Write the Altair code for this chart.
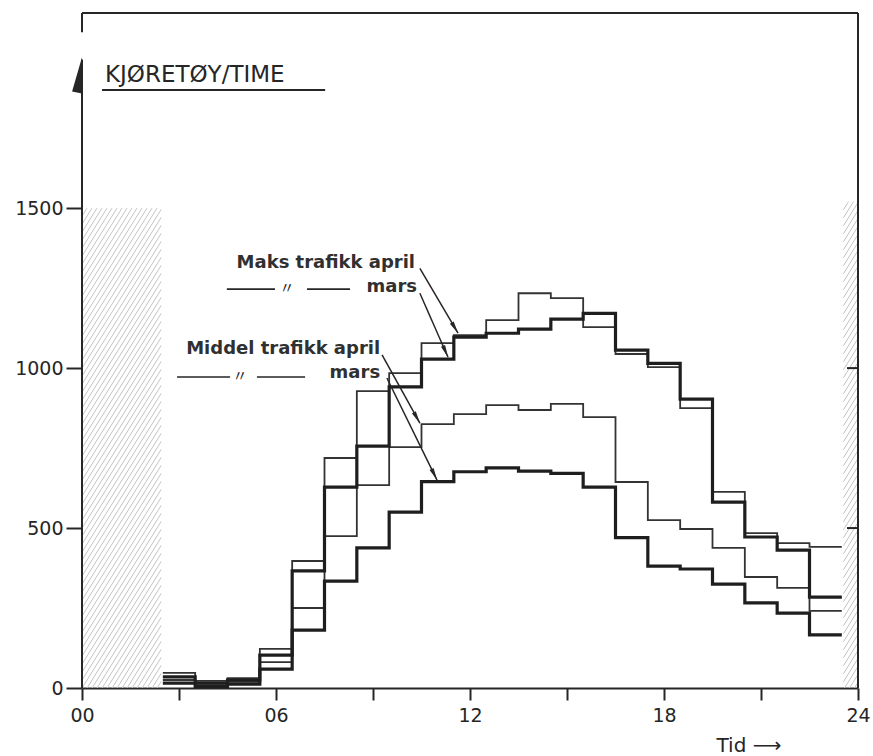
import math
import altair as alt
import pandas as pd

# Hourly traffic (vehicles per hour); each value covers hour-0.5 .. hour+0.5
hours = list(range(3, 24))
maks_april = [47, 22, 31, 122, 397, 719, 928, 984, 1078, 1103, 1150, 1234,
              1219, 1128, 1044, 1003, 875, 613, 484, 453, 441]
maks_mars = [35, 15, 25, 103, 366, 628, 756, 941, 1028, 1097, 1109, 1122,
             1153, 1171, 1056, 1015, 903, 581, 472, 431, 284]
middel_april = [25, 8, 19, 81, 250, 475, 634, 753, 825, 856, 884, 869,
                888, 847, 644, 525, 497, 438, 347, 313, 241]
middel_mars = [15, 5, 12, 59, 181, 334, 438, 550, 645, 676, 688, 678,
               671, 628, 470, 381, 372, 325, 266, 234, 166]

x_ticks = [0, 3, 6, 9, 12, 15, 18, 21, 24]
y_ticks = [0, 500, 1000, 1500]

# layout
W, H = 776, 675
XMAX, YMAX = 24, 2110
PXH = W / XMAX
PXV = H / YMAX
INK = "#262626"
FONT = "DejaVu Sans"

xs = alt.Scale(domain=[0, XMAX], nice=False, zero=False)
ys = alt.Scale(domain=[0, YMAX], nice=False)


def steps(name, vals):
    rows = [{"serie": name, "t": h - 0.5, "v": v} for h, v in zip(hours, vals)]
    rows.append({"serie": name, "t": hours[-1] + 0.5, "v": vals[-1]})
    return rows


thin_df = pd.DataFrame(steps("Maks april", maks_april) + steps("Middel april", middel_april))
thick_df = pd.DataFrame(steps("Maks mars", maks_mars) + steps("Middel mars", middel_mars))


def hatch(x0, x1, y0, y1, gap=5.0, slope=1.6):
    """Diagonal '/' hatch segments clipped to a rectangle (data units)."""
    X0, X1, Y0, Y1 = x0 * PXH, x1 * PXH, y0 * PXV, y1 * PXV
    span = (Y1 - Y0) / slope
    segs = []
    c = X0 - span
    while c < X1:
        a, b = max(X0, c), min(X1, c + span)
        if a < b:
            segs.append({"x": a / PXH, "y": (Y0 + slope * (a - c)) / PXV,
                         "x2": b / PXH, "y2": (Y0 + slope * (b - c)) / PXV})
        c += gap
    return segs


hatch_df = pd.DataFrame(hatch(0, 2.45, 0, 1500) + hatch(23.55, 24, 0, 1520))

frame_df = pd.DataFrame([
    {"x": 0, "y": YMAX, "x2": 24, "y2": YMAX},
    {"x": 24, "y": 0, "x2": 24, "y2": YMAX},
    {"x": 0, "y": 0, "x2": 0, "y2": 1965},
    {"x": 0, "y": 2050, "x2": 0, "y2": YMAX},
    {"x": 23.66, "y": 500, "x2": 24, "y2": 500},
    {"x": 23.66, "y": 1000, "x2": 24, "y2": 1000},
    {"x": 0.62, "y": 1869, "x2": 7.52, "y2": 1869},
])

# ditto dashes of the legend
dash_df = pd.DataFrame([
    {"x": 4.48, "y": 1247, "x2": 5.97, "y2": 1247},
    {"x": 6.96, "y": 1247, "x2": 8.29, "y2": 1247},
    {"x": 2.94, "y": 972, "x2": 4.58, "y2": 972},
    {"x": 5.41, "y": 972, "x2": 6.90, "y2": 972},
])

arrows = [
    (10.45, 1312, 11.63, 1109),
    (10.45, 1234, 11.32, 1034),
    (9.28, 1041, 10.45, 828),
    (9.43, 969, 10.98, 650),
]
arrow_df = pd.DataFrame([{"x": a, "y": b, "x2": c, "y2": d} for a, b, c, d in arrows])
heads = []
for a, b, c, d in arrows:
    dx, dy = (c - a) * PXH, -(d - b) * PXV
    n = math.hypot(dx, dy)
    ang = math.degrees(math.atan2(dx, -dy)) % 360
    heads.append({"x": c - dx / n * 6 / PXH, "y": d + dy / n * 6 / PXV, "ang": ang})
heads_df = pd.DataFrame(heads)

hatch_layer = alt.Chart(hatch_df).mark_rule(color="#c4c4c4", strokeWidth=1).encode(
    x=alt.X("x:Q", scale=xs), y=alt.Y("y:Q", scale=ys), x2="x2:Q", y2="y2:Q")

frame_layer = alt.Chart(frame_df).mark_rule(color=INK, strokeWidth=2).encode(
    x=alt.X("x:Q", scale=xs), y=alt.Y("y:Q", scale=ys), x2="x2:Q", y2="y2:Q")

dash_layer = alt.Chart(dash_df).mark_rule(color=INK, strokeWidth=1.6).encode(
    x=alt.X("x:Q", scale=xs), y=alt.Y("y:Q", scale=ys), x2="x2:Q", y2="y2:Q")

thin_layer = alt.Chart(thin_df).mark_line(
    interpolate="step-after", color="#333333", strokeWidth=1.8).encode(
    x=alt.X("t:Q", scale=xs,
            axis=alt.Axis(values=x_ticks, title="Tid  ⟶", grid=False,
                          labelExpr="datum.value % 6 == 0 ? (datum.value < 10 ? '0' + datum.value : '' + datum.value) : ''")),
    y=alt.Y("v:Q", scale=ys,
            axis=alt.Axis(values=y_ticks, title=None, grid=False, domain=False, format="d")),
    detail="serie:N")

thick_layer = alt.Chart(thick_df).mark_line(
    interpolate="step-after", color="#1e1e1e", strokeWidth=3.2).encode(
    x=alt.X("t:Q", scale=xs), y=alt.Y("v:Q", scale=ys), detail="serie:N")

arrow_layer = alt.Chart(arrow_df).mark_rule(color=INK, strokeWidth=1.5).encode(
    x=alt.X("x:Q", scale=xs), y=alt.Y("y:Q", scale=ys), x2="x2:Q", y2="y2:Q")

head_layer = alt.Chart(heads_df).mark_point(
    shape="M0,-1L0.35,1L-0.35,1Z", filled=True, color=INK, opacity=1, size=160).encode(
    x=alt.X("x:Q", scale=xs), y=alt.Y("y:Q", scale=ys),
    angle=alt.Angle("ang:Q", scale=None))

yarrow_layer = alt.Chart(pd.DataFrame([{"x": 0, "y": 1915}])).mark_point(
    shape="M0,-1L0,1L-0.55,0.9Z", filled=True, color=INK, opacity=1, size=1300).encode(
    x=alt.X("x:Q", scale=xs), y=alt.Y("y:Q", scale=ys))

title_layer = alt.Chart(pd.DataFrame([{"x": 0.71, "y": 1916, "t": "KJØRETØY/TIME"}])).mark_text(
    align="left", baseline="middle", font=FONT, fontSize=23, color=INK).encode(
    x=alt.X("x:Q", scale=xs), y=alt.Y("y:Q", scale=ys), text="t:N")

legend_df = pd.DataFrame([
    {"x": 10.30, "y": 1328, "t": "Maks trafikk april"},
    {"x": 10.36, "y": 1253, "t": "mars"},
    {"x": 9.22, "y": 1060, "t": "Middel trafikk april"},
    {"x": 9.22, "y": 985, "t": "mars"},
])
legend_layer = alt.Chart(legend_df).mark_text(
    align="right", baseline="middle", font=FONT, fontSize=18, fontWeight="bold",
    color="#303030").encode(x=alt.X("x:Q", scale=xs), y=alt.Y("y:Q", scale=ys), text="t:N")

ditto_df = pd.DataFrame([{"x": 6.34, "y": 1250, "t": "〃"}, {"x": 4.89, "y": 976, "t": "〃"}])
ditto_layer = alt.Chart(ditto_df).mark_text(
    align="center", baseline="middle", font="Noto Sans CJK JP", fontSize=15, color=INK).encode(
    x=alt.X("x:Q", scale=xs), y=alt.Y("y:Q", scale=ys), text="t:N")

chart = alt.layer(
    hatch_layer, thin_layer, thick_layer, frame_layer, dash_layer, arrow_layer, head_layer,
    yarrow_layer, title_layer, legend_layer, ditto_layer,
).properties(
    width=W, height=H,
    autosize=alt.AutoSizeParams(type="none"),
    padding={"left": 82, "top": 13, "right": 15, "bottom": 68},
    background="white",
).configure_view(stroke=None).configure_axis(
    labelFont=FONT, labelFontSize=19, labelColor=INK,
    tickColor=INK, tickWidth=2, domainColor=INK, domainWidth=2,
    titleFont=FONT, titleColor=INK,
).configure_axisX(
    tickSize=12, labelPadding=6, titleFontSize=20, titleFontWeight="normal",
    titleX=634, titleY=57, titleAlign="left", titleBaseline="middle",
    labelFlush=False,
).configure_axisY(
    tickSize=16, labelPadding=3,
)

chart.save("out.html", embed_options={"renderer": "svg", "actions": False})
